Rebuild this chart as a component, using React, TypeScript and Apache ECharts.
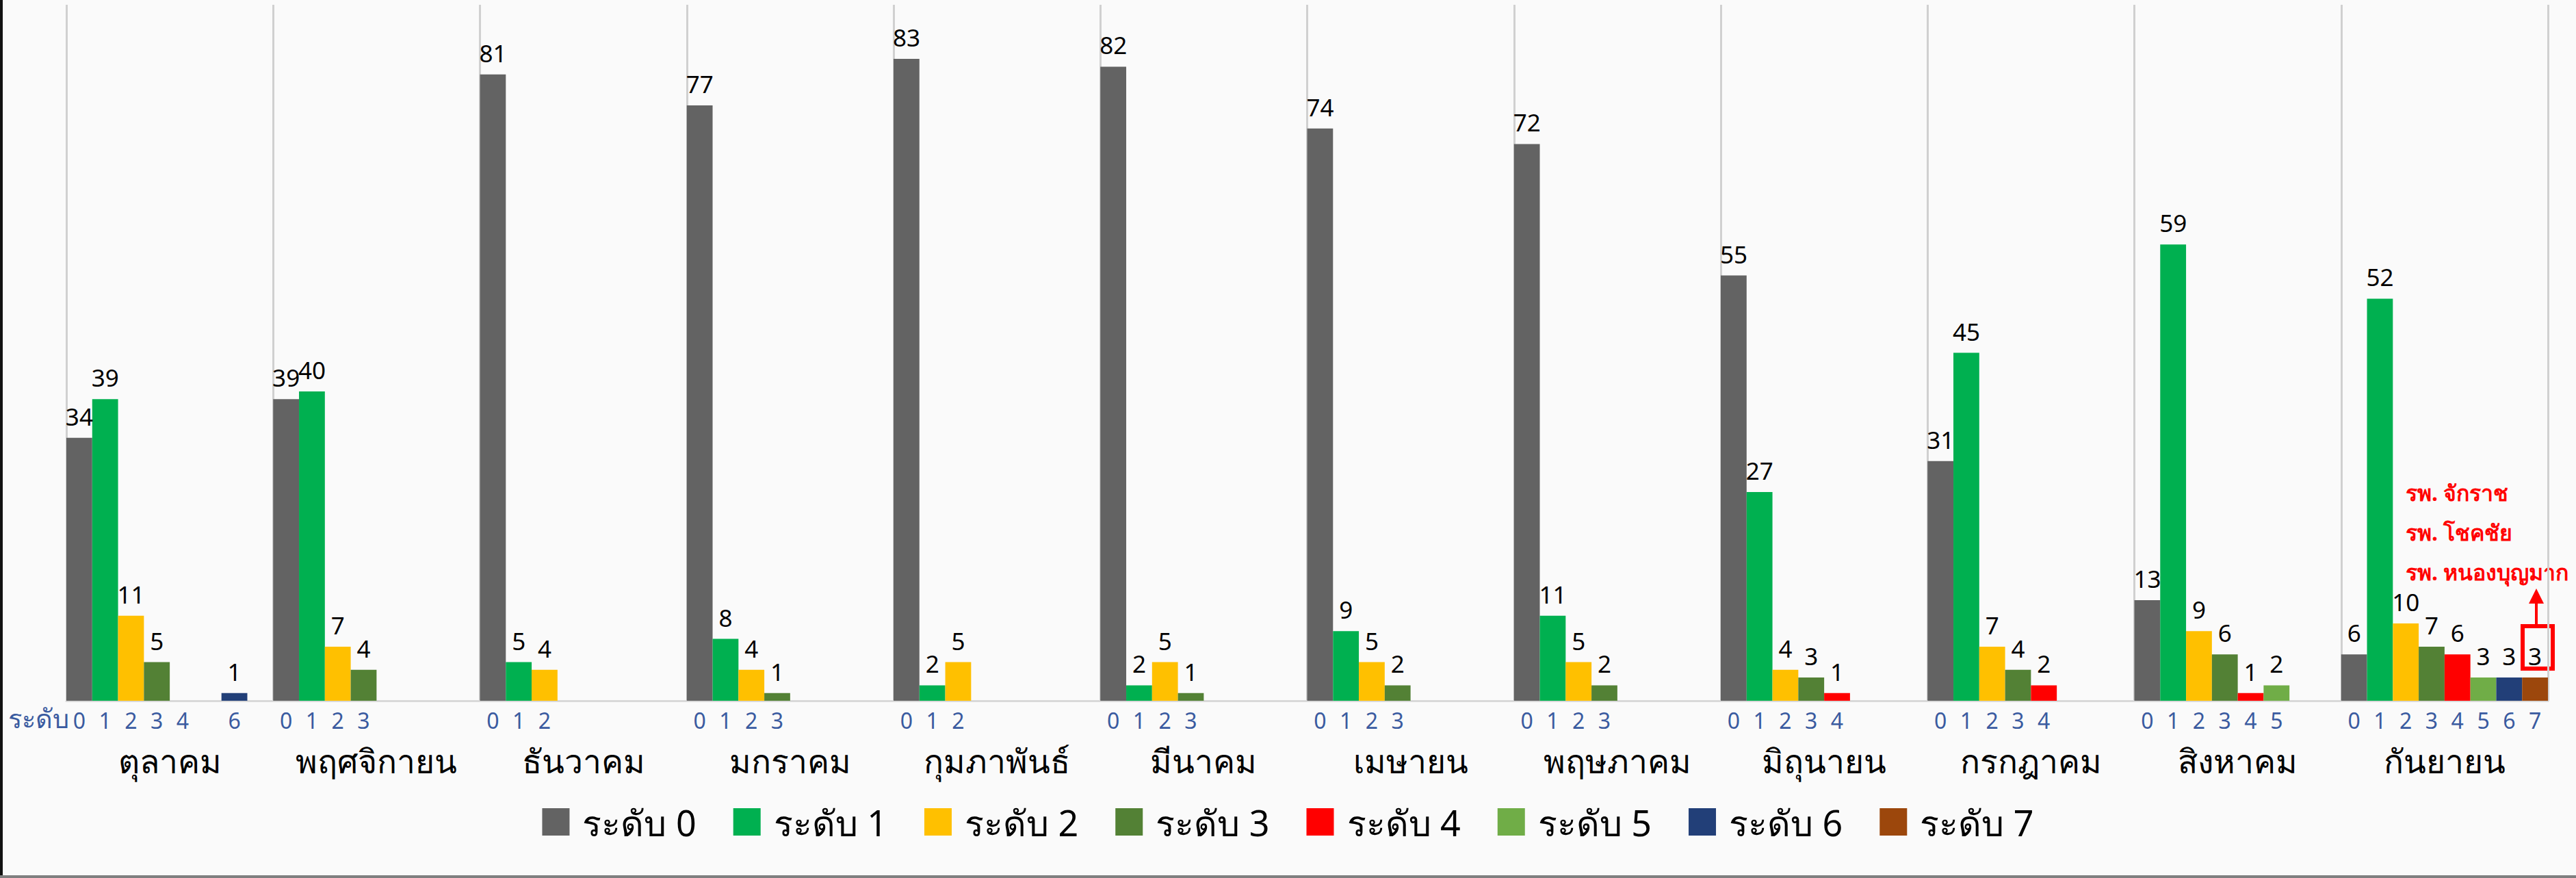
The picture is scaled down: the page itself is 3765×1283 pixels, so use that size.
import React, { useEffect, useRef } from "react";
import * as echarts from "echarts";

const months = [
  "ตุลาคม",
  "พฤศจิกายน",
  "ธันวาคม",
  "มกราคม",
  "กุมภาพันธ์",
  "มีนาคม",
  "เมษายน",
  "พฤษภาคม",
  "มิถุนายน",
  "กรกฎาคม",
  "สิงหาคม",
  "กันยายน",
];

const levelNames = ["ระดับ 0", "ระดับ 1", "ระดับ 2", "ระดับ 3", "ระดับ 4", "ระดับ 5", "ระดับ 6", "ระดับ 7"];

const levelColors = ["#636363", "#00B050", "#FFC000", "#538135", "#FF0000", "#70AD47", "#223F78", "#9C470C"];

// values per level, one entry per month (null = level not present)
const level0 = [34, 39, 81, 77, 83, 82, 74, 72, 55, 31, 13, 6];
const level1 = [39, 40, 5, 8, 2, 2, 9, 11, 27, 45, 59, 52];
const level2 = [11, 7, 4, 4, 5, 5, 5, 5, 4, 7, 9, 10];
const level3 = [5, 4, null, 1, null, 1, 2, 2, 3, 4, 6, 7];
const level4 = [0, null, null, null, null, null, null, null, 1, 2, 1, 6];
const level5 = [null, null, null, null, null, null, null, null, null, null, 2, 3];
const level6 = [1, null, null, null, null, null, null, null, null, null, null, 3];
const level7 = [null, null, null, null, null, null, null, null, null, null, null, 3];

const levels = [level0, level1, level2, level3, level4, level5, level6, level7];

const noteLines = ["รพ. จักราช", "รพ. โชคชัย", "รพ. หนองบุญมาก"];

const FONT = "Tahoma, 'Noto Sans', 'DejaVu Sans', sans-serif";
const SUB_COLOR = "#3A5BA0";

export default function App() {
  const ref = useRef<HTMLDivElement>(null);

  useEffect(() => {
    document.body.style.margin = "0";
    if (!ref.current) return;
    const chart = echarts.init(ref.current, undefined, { renderer: "svg" });

    const subData: number[][] = [];
    levels.forEach((arr, lv) => {
      arr.forEach((v, m) => {
        if (v !== null) subData.push([m, lv]);
      });
    });

    const barSeries = levels.map((arr, lv) => ({
      name: levelNames[lv],
      type: "bar",
      data: arr.map((v) => (v === null ? "-" : v)),
      itemStyle: { color: levelColors[lv] },
      barGap: "0%",
      barCategoryGap: "0%",
      label: {
        show: true,
        position: "top",
        distance: 14,
        color: "#000",
        fontSize: 35,
        fontFamily: FONT,
        formatter: (p: any) => (p.value > 0 ? String(p.value) : ""),
      },
    }));

    const subSeries = {
      type: "custom",
      name: "sub",
      clip: false,
      silent: true,
      data: subData,
      renderItem: (params: any, api: any) => {
        const m = api.value(0);
        const lv = api.value(1);
        const pt = api.coord([m, 0]);
        const band = api.size([1, 0])[0];
        const x = pt[0] - band / 2 + ((lv + 0.5) * band) / 8;
        return {
          type: "text",
          x,
          y: pt[1] + 28,
          style: {
            text: String(lv),
            fill: SUB_COLOR,
            font: `32px ${FONT}`,
            align: "center",
            verticalAlign: "middle",
          },
        };
      },
    };

    const option: any = {
      animation: false,
      backgroundColor: "#FAFAFA",
      grid: { left: 97, right: 41, top: 7, bottom: 259, containLabel: false },
      legend: {
        data: levelNames,
        top: 1170,
        left: "center",
        itemWidth: 40,
        itemHeight: 40,
        itemGap: 54,
        icon: "rect",
        textStyle: { fontSize: 52, color: "#000", fontFamily: FONT, padding: [0, 0, 0, 14] },
      },
      xAxis: {
        type: "category",
        data: months,
        axisTick: { show: false },
        axisLine: { show: true, lineStyle: { color: "#D9D9D9", width: 3 } },
        splitLine: { show: true, lineStyle: { color: "#D0D0D0", width: 3 } },
        axisLabel: { fontSize: 48, color: "#000", fontFamily: FONT, margin: 63, interval: 0 },
      },
      yAxis: {
        type: "value",
        min: 0,
        max: 90,
        show: false,
        splitLine: { show: false },
      },
      series: [...barSeries, subSeries],
      graphic: [
        {
          type: "text",
          left: 12,
          top: 1030,
          style: { text: "ระดับ", fill: SUB_COLOR, font: `38px ${FONT}` },
        },
        ...noteLines.map((t, i) => ({
          type: "text",
          left: 3516,
          top: 703 + i * 58,
          style: { text: t, fill: "#FF0000", font: `bold 32px ${FONT}` },
        })),
        {
          type: "rect",
          shape: { x: 3687, y: 915, width: 44, height: 62 },
          style: { fill: "none", stroke: "#FF0000", lineWidth: 6 },
        },
        {
          type: "line",
          shape: { x1: 3707, y1: 913, x2: 3707, y2: 878 },
          style: { stroke: "#FF0000", lineWidth: 4 },
        },
        {
          type: "polygon",
          shape: { points: [[3707, 860], [3696, 882], [3718, 882]] },
          style: { fill: "#FF0000" },
        },
        {
          type: "rect",
          shape: { x: 0, y: 0, width: 4, height: 1283 },
          style: { fill: "#111" },
        },
        {
          type: "rect",
          shape: { x: 0, y: 1279, width: 3765, height: 4 },
          style: { fill: "#7F7F7F" },
        },
      ],
    };

    chart.setOption(option);
    return () => chart.dispose();
  }, []);

  return <div ref={ref} style={{ width: 3765, height: 1283 }} />;
}
